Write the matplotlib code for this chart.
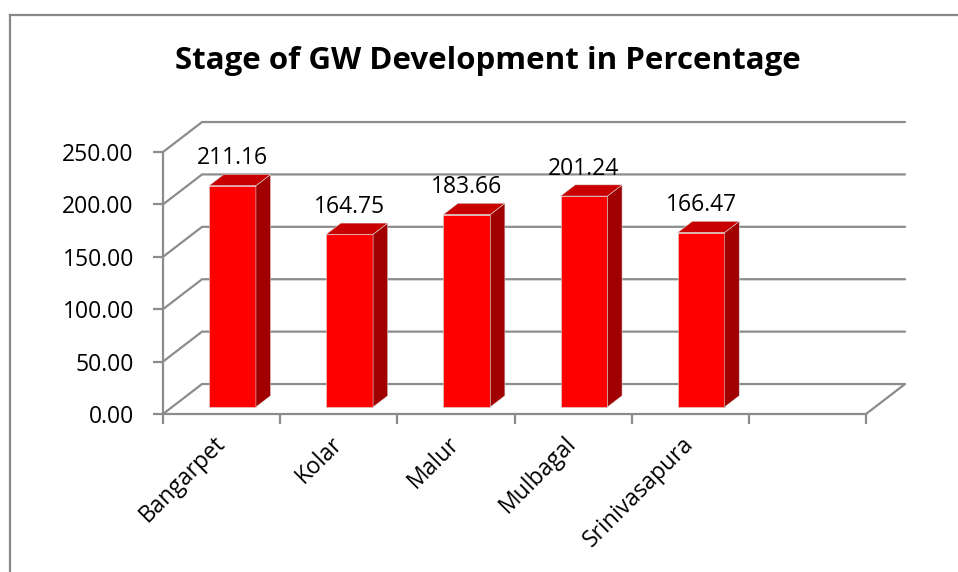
import matplotlib
matplotlib.use('Agg')
import matplotlib.pyplot as plt
from matplotlib.patches import Polygon
from matplotlib.lines import Line2D
import numpy as np

# ---- data ----
title = 'Stage of GW Development in Percentage'
categories = ['Bangarpet', 'Kolar', 'Malur', 'Mulbagal', 'Srinivasapura']
values = [211.16, 164.75, 183.66, 201.24, 166.47]
yticks = [0, 50, 100, 150, 200, 250]

plt.rcParams['font.family'] = ['Open Sans', 'DejaVu Sans']

W, H = 958, 572
fig = plt.figure(figsize=(W / 100, H / 100), dpi=100)

n_slots = len(categories) + 1
x0p, x1p = 163, 866
y0p, y1p = 414, 152
ax = fig.add_axes([x0p / W, 1 - y0p / H, (x1p - x0p) / W, (y0p - y1p) / H])
ax.set_xlim(0, n_slots)
ax.set_ylim(yticks[0], yticks[-1])

DX = 1 / 3      # depth offset in category units
DY = 28.6       # depth offset in value units
grid_c = '#8c8c8c'
lw = 1.6

# back wall gridlines + floor
for v in yticks:
    if v == 0:
        xs = [0, DX, n_slots + DX, n_slots]
        ys = [0, DY, DY, 0]
    else:
        xs = [0, DX, n_slots + DX]
        ys = [v, v + DY, v + DY]
    ax.plot(xs, ys, color=grid_c, lw=lw, clip_on=False, zorder=1,
            solid_capstyle='round', solid_joinstyle='round')

# 3D bars
F0 = 0.234   # front of bar, as fraction of depth
FB = 0.375   # bar depth fraction
BW = 0.40    # bar width
C = 0.515    # bar center within slot
for i, v in enumerate(values):
    xl = i + C - BW / 2 + F0 * DX
    xr = xl + BW
    yb = F0 * DY
    yt = v + yb
    ddx, ddy = FB * DX, FB * DY
    front = [(xl, yb), (xr, yb), (xr, yt), (xl, yt)]
    side = [(xr, yb), (xr + ddx, yb + ddy), (xr + ddx, yt + ddy), (xr, yt)]
    top = [(xl, yt), (xr, yt), (xr + ddx, yt + ddy), (xl + ddx, yt + ddy)]
    for poly, col in ((front, '#ff0000'), (side, '#a00000'), (top, '#c80000')):
        ax.add_patch(Polygon(poly, closed=True, facecolor=col, edgecolor='#d8d8d8',
                             lw=0.4, clip_on=False, zorder=3))
    ax.annotate(f'{v:.2f}', xy=((xl + xr) / 2, yt + ddy), xytext=(0, 3),
                textcoords='offset points', ha='center', va='bottom',
                fontsize=16.5, color='black', zorder=5, annotation_clip=False)

# axes styling
for s in ('top', 'right'):
    ax.spines[s].set_visible(False)
ax.spines['left'].set_bounds(yticks[0], yticks[-1])
ax.spines['bottom'].set_bounds(0, n_slots)
for s in ('left', 'bottom'):
    ax.spines[s].set_color(grid_c)
    ax.spines[s].set_linewidth(lw)
ax.set_facecolor('none')

ax.set_yticks(yticks, [f'{t:.2f}' for t in yticks])
ax.tick_params(axis='y', length=7, width=lw, color=grid_c, pad=14, labelsize=16.5)

ax.set_xticks(np.arange(n_slots + 1))
ax.set_xticklabels([])
ax.tick_params(axis='x', which='major', length=7, width=lw, color=grid_c)
ax.set_xticks(np.arange(len(categories)) + 0.5, categories, minor=True)
ax.tick_params(axis='x', which='minor', length=0, pad=19, labelsize=16.5)
for lab in ax.get_xticklabels(minor=True):
    lab.set_rotation(45)
    lab.set_ha('right')
    lab.set_va('center')
    lab.set_rotation_mode('anchor')

# title
fig.text(488 / W, 1 - 61 / H, title, fontsize=22.5, fontweight='bold',
         ha='center', va='center')

# chart-area border
bc = '#888888'
fig.add_artist(Line2D([9.5 / W, 9.5 / W], [0, 1 - 15 / H], transform=fig.transFigure,
                      color=bc, lw=1.6))
fig.add_artist(Line2D([9.5 / W, 1], [1 - 15 / H, 1 - 15 / H], transform=fig.transFigure,
                      color=bc, lw=1.6))

fig.savefig('out.png', dpi=100)
